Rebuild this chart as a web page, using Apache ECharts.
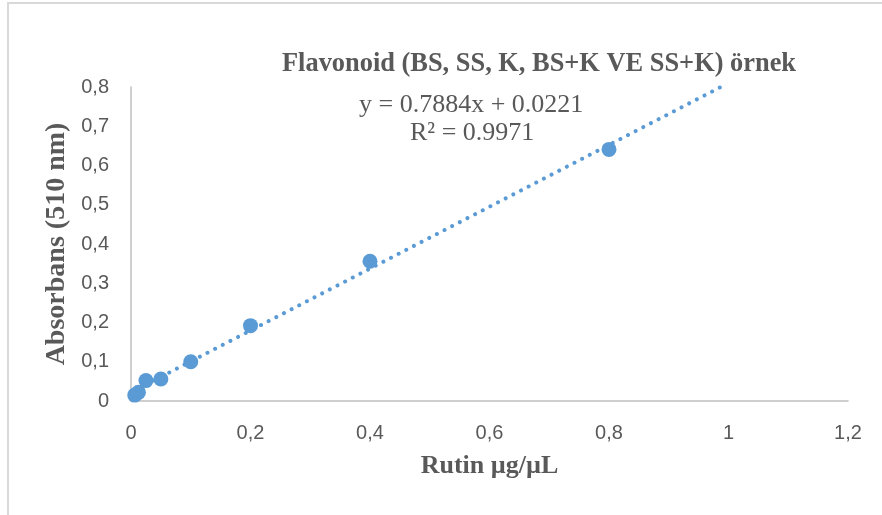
<!DOCTYPE html>
<html>
<head>
<meta charset="utf-8">
<script src="https://cdn.jsdelivr.net/npm/echarts@6/dist/echarts.min.js"></script>
<style>
  html, body { margin: 0; padding: 0; background: #fff; }
  #chart { width: 882px; height: 515px; }
  #frame { position: absolute; left: 7px; top: 2px; width: 900px; height: 600px;
           border-left: 2px solid #d9d9d9; border-top: 2px solid #d9d9d9; }
</style>
</head>
<body>
<div id="frame"></div>
<div id="chart" style="position:absolute;left:0;top:0;"></div>
<script>
// olcum noktalari (Rutin konsantrasyonu / absorbans)
var rutinX = [0.00625, 0.0125, 0.025, 0.05, 0.1, 0.2, 0.4, 0.8];
var absorbY = [0.015, 0.022, 0.052, 0.056, 0.1, 0.192, 0.356, 0.641];

// dogrusal trend cizgisi: y = 0.7884x + 0.0221 (grafik ust siniri 0.8'de biter)
var trendX = [0, 0.987];
var trendY = [0.0221, 0.8];

var xTicks = ['0', '0,2', '0,4', '0,6', '0,8', '1', '1,2'];
var yTicks = ['0', '0,1', '0,2', '0,3', '0,4', '0,5', '0,6', '0,7', '0,8'];

var chartTitle = 'Flavonoid (BS, SS, K, BS+K VE SS+K) örnek';
var eqText = 'y = 0.7884x + 0.0221';
var r2Text = 'R² = 0.9971';

var myChart = echarts.init(document.getElementById('chart'));

var pts = [];
for (var i = 0; i < rutinX.length; i++) {
    pts.push([rutinX[i], absorbY[i]]);
}
var trend = [];
for (var j = 0; j < trendX.length; j++) {
    trend.push([trendX[j], trendY[j]]);
}

var serif = '"Liberation Serif", "Times New Roman", serif';
var sans = '"Liberation Sans", Arial, sans-serif';

var option = {
    animation: false,
    backgroundColor: 'transparent',
    title: {
        text: chartTitle,
        left: 282,
        top: 51,
        padding: 0,
        textStyle: {
            fontFamily: serif,
            fontWeight: 'bold',
            fontSize: 26.4,
            color: '#595959'
        }
    },
    graphic: [
        {
            type: 'text',
            left: 359,
            top: 92,
            style: { text: eqText, font: '26px ' + serif, fill: '#595959' }
        },
        {
            type: 'text',
            left: 410,
            top: 120,
            style: { text: r2Text, font: '26px ' + serif, fill: '#595959' }
        }
    ],
    grid: {
        left: 131,
        right: 34,
        top: 87,
        bottom: 114
    },
    xAxis: {
        type: 'value',
        min: 0,
        max: 1.2,
        interval: 0.2,
        name: 'Rutin µg/µL',
        nameLocation: 'middle',
        nameGap: 52,
        nameTextStyle: {
            fontFamily: serif,
            fontWeight: 'bold',
            fontSize: 26,
            color: '#595959'
        },
        axisLine: { show: true, lineStyle: { color: '#bfbfbf', width: 1.5 } },
        axisTick: { show: false },
        splitLine: { show: false },
        axisLabel: {
            margin: 22,
            fontFamily: sans,
            fontSize: 20,
            color: '#595959',
            formatter: function(v) {
                return xTicks[Math.round(v / 0.2)];
            }
        }
    },
    yAxis: {
        type: 'value',
        min: 0,
        max: 0.8,
        interval: 0.1,
        name: 'Absorbans (510 nm)',
        nameLocation: 'middle',
        nameGap: 60,
        nameTextStyle: {
            fontFamily: serif,
            fontWeight: 'bold',
            fontSize: 28,
            color: '#595959'
        },
        axisLine: { show: true, lineStyle: { color: '#bfbfbf', width: 1.5 } },
        axisTick: { show: false },
        splitLine: { show: false },
        axisLabel: {
            margin: 22,
            fontFamily: sans,
            fontSize: 20,
            color: '#595959',
            formatter: function(v) {
                return yTicks[Math.round(v / 0.1)];
            }
        }
    },
    series: [
        {
            name: 'trend',
            type: 'line',
            data: trend,
            showSymbol: false,
            silent: true,
            z: 1,
            lineStyle: {
                color: '#5b9bd5',
                width: 4,
                type: [0.01, 8.6],
                cap: 'round'
            }
        },
        {
            name: 'absorbans',
            type: 'scatter',
            data: pts,
            symbol: 'circle',
            symbolSize: 15,
            z: 2,
            itemStyle: { color: '#5b9bd5', opacity: 1 }
        }
    ]
};

myChart.setOption(option);
</script>
</body>
</html>
